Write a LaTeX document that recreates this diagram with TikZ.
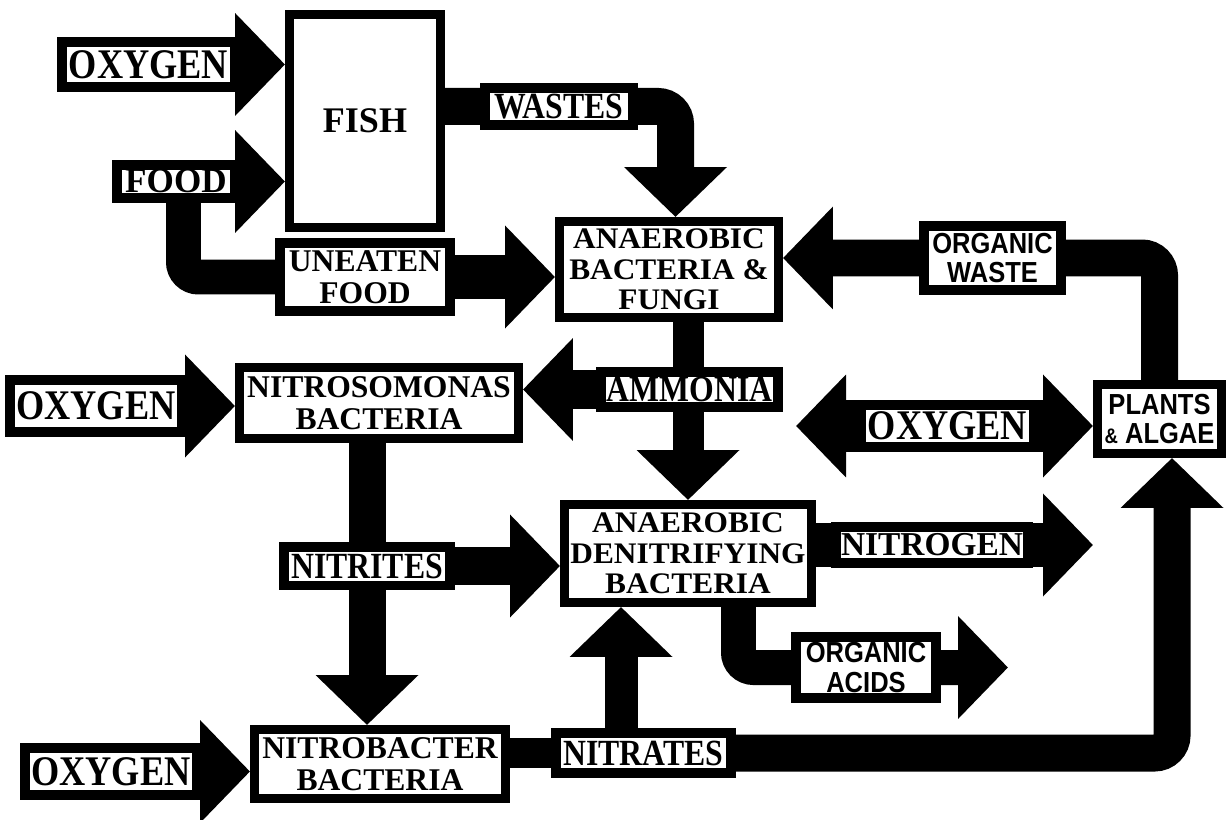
\documentclass[tikz,border=0pt]{standalone}
\usepackage{fontspec}
\setmainfont{Liberation Serif}
\newfontfamily\serifN[FakeStretch=0.86]{Liberation Serif}
\newfontfamily\serifW[FakeStretch=1.05]{Liberation Serif}
\newfontfamily\sansN[FakeStretch=0.88]{Liberation Sans}
\usetikzlibrary{arrows.meta,backgrounds}
\begin{document}
\begin{tikzpicture}[x=0.02cm,y=-0.02cm,
	box/.style={draw,line width=0.18cm,fill=white,inner sep=0,align=center,
		font=\bfseries\fontsize{18}{18.5}\selectfont},
	tall/.style={box,font=\serifW\bfseries\fontsize{17}{17.5}\selectfont},
	tag/.style={draw,line width=0.2cm,fill=white,inner sep=0,align=center,
		font=\serifN\bfseries\fontsize{21}{21}\selectfont},
	oxy/.style={tag,minimum width=3.46cm,font=\serifN\bfseries\fontsize{24}{24}\selectfont},
	sans/.style={font=\sansN\bfseries\fontsize{16.5}{17}\selectfont},
	flow/.style={line width=0.8cm,-{Triangle[length=1cm,width=2cm]}},
	twoway/.style={flow,{Triangle[length=1cm,width=2cm]}-{Triangle[length=1cm,width=2cm]}},
	bar/.style={line width=0.7cm}]
\useasboundingbox (0,0) rectangle (1226,820);
\node[box,minimum width=3.02cm,minimum height=4.26cm,
	font=\bfseries\fontsize{20.5}{20.5}\selectfont] (fish) at (365,121) {FISH};
\node[tall,minimum width=4.38cm,minimum height=1.92cm] (anaer) at (669,269.5) {ANAEROBIC\\BACTERIA \&\\FUNGI};
\node[box,minimum width=5.58cm,minimum height=1.42cm] (nitroso) at (379,403) {NITROSOMONAS\\BACTERIA};
\node[tall,minimum width=4.94cm,minimum height=1.96cm] (denit) at (688,553.5) {ANAEROBIC\\DENITRIFYING\\BACTERIA};
\node[box,minimum width=5.02cm,minimum height=1.38cm] (nitrob) at (380,764) {NITROBACTER\\BACTERIA};
\node[box,sans,minimum width=2.48cm,minimum height=1.38cm] (plants) at (1159.5,419) {PLANTS\\{\fontsize{12}{12}\selectfont\&} ALGAE};

\node[oxy,minimum height=0.9cm] (oxyA) at (148.5,64.5) {OXYGEN};
\node[tag,minimum width=2.36cm,minimum height=0.66cm,
	font=\bfseries\fontsize{20}{20}\selectfont] (food) at (176,181.5) {FOOD};
\node[tag,minimum width=3.4cm,minimum height=1.36cm,
	font=\bfseries\fontsize{18}{18.5}\selectfont] (uneaten) at (365,277) {UNEATEN\\FOOD};
\node[tag,minimum width=2.96cm,minimum height=0.74cm] (wastes) at (559,106.5) {WASTES};
\node[tag,sans,minimum width=2.74cm,minimum height=1.3cm] (orgwaste) at (992.5,258) {ORGANIC\\WASTE};
\node[tag,minimum width=3.54cm,minimum height=0.7cm] (ammonia) at (689.5,389.5) {AMMONIA};
\node[oxy,minimum height=1.04cm] (oxyB) at (96,406) {OXYGEN};
\node[oxy,minimum height=0.84cm] (oxyD) at (947.5,426) {OXYGEN};
\node[tag,minimum width=3.32cm,minimum height=0.78cm] (nitrites) at (367,566) {NITRITES};
\node[tag,minimum width=3.84cm,minimum height=0.72cm,
	font=\bfseries\fontsize{19}{19}\selectfont] (nitrogen) at (932,545) {NITROGEN};
\node[tag,sans,minimum width=2.8cm,minimum height=1.22cm] (orgacids) at (866,667.5) {ORGANIC\\ACIDS};
\node[tag,minimum width=3.5cm,minimum height=0.8cm] (nitrates) at (643.5,753) {NITRATES};
\node[oxy,minimum height=0.94cm] (oxyC) at (111,771.5) {OXYGEN};

\coordinate (oxyEnd) at (796,426);
\coordinate (nitroEnd) at (1093,545);
\coordinate (acidEnd) at (1008,667.5);

\begin{scope}[on background layer]
\draw[flow] (oxyA.east) -- (oxyA -| fish.west);
\draw[flow] (food.east) -- (food -| fish.west);
\draw[bar,rounded corners=0.3cm] ([xshift=0.15cm]food.south) |- (uneaten.west);
\draw[flow,line width=0.88cm] (uneaten.east) -- (uneaten -| anaer.west);
\draw[flow,line width=0.74cm,rounded corners=0.35cm] (fish.east |- wastes) -| ([xshift=0.13cm]anaer.north);
\draw[flow,line width=0.74cm,rounded corners=0.35cm] (plants.north) |- (orgwaste -| anaer.east);
\draw[flow,line width=0.62cm] (anaer.south -| denit.north) -- (denit.north);
\draw[flow] (ammonia.west) -- (ammonia -| nitroso.east);
\draw[flow] (oxyB.east) -- (oxyB -| nitroso.west);
\draw[twoway,line width=1.04cm] (oxyEnd) -- (oxyD -| plants.west);
\draw[flow,line width=0.74cm] (nitrites |- nitroso.south) -- (nitrites |- nitrob.north);
\draw[flow,line width=0.76cm] (nitrites.east) -- (nitrites -| denit.west);
\draw[flow,line width=0.9cm] (denit.east |- nitrogen) -- (nitroEnd);
\draw[flow,line width=0.7cm,rounded corners=0.3cm] ([xshift=1.01cm]denit.south) |- (acidEnd);
\draw[bar,line width=0.6cm] (nitrob.east |- nitrates) -- (nitrates.west);
\draw[flow,line width=0.74cm,rounded corners=0.35cm] (nitrates.east) -| ([xshift=0.25cm]plants.south);
\draw[flow,line width=0.66cm] ([xshift=-0.45cm]nitrates.north) -- ([xshift=-0.45cm]nitrates.north |- denit.south);
\draw[flow] (oxyC.east) -- (oxyC -| nitrob.west);
\end{scope}
\end{tikzpicture}
\end{document}
